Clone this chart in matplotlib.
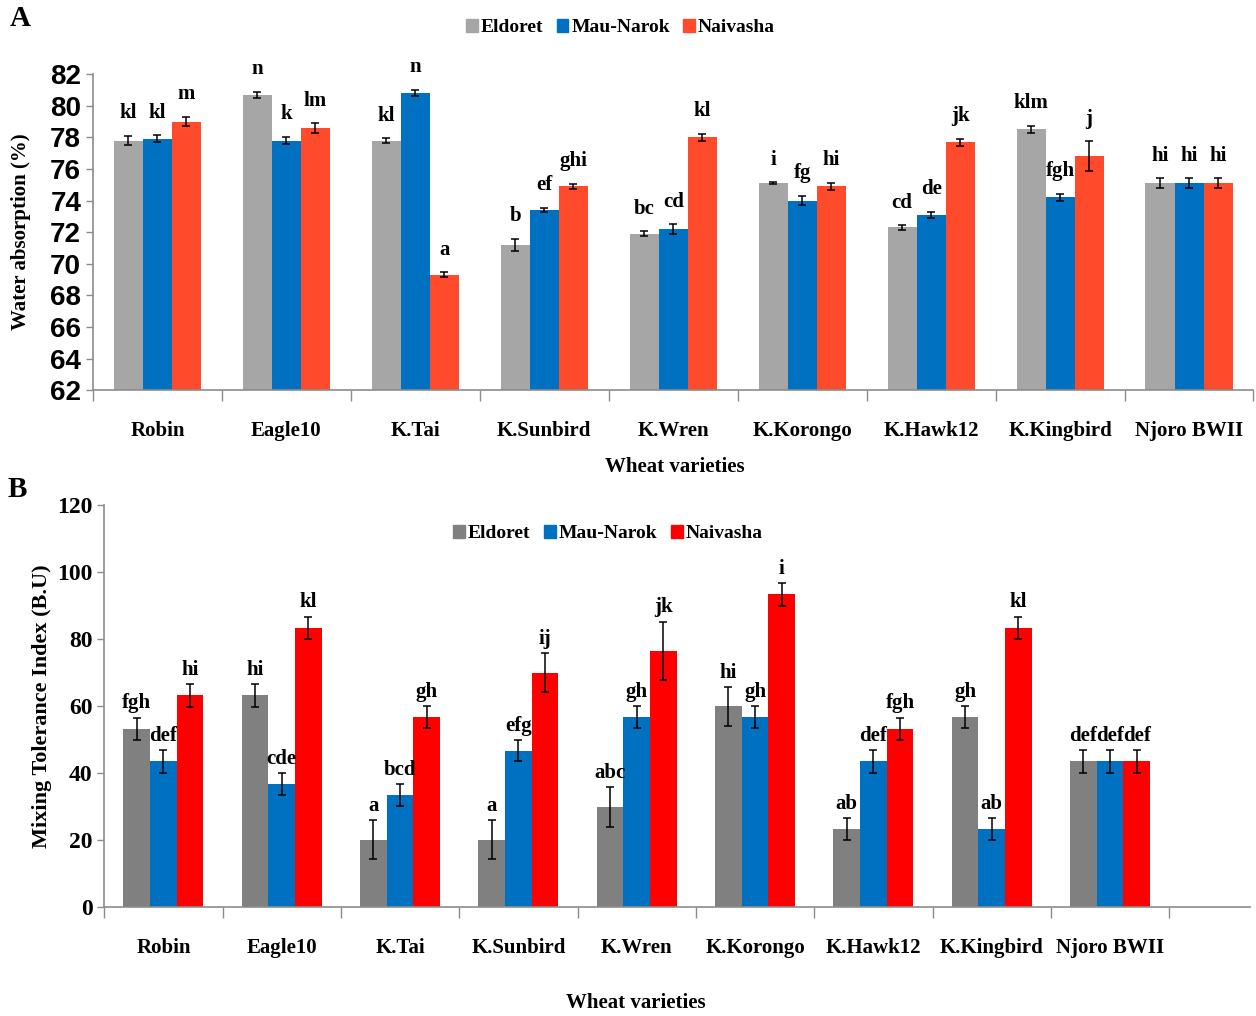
import matplotlib
matplotlib.use("Agg")
import matplotlib.pyplot as plt
from matplotlib.patches import Patch
from matplotlib.ticker import FixedLocator, NullFormatter
import numpy as np

varieties = ["Robin", "Eagle10", "K.Tai", "K.Sunbird", "K.Wren",
             "K.Korongo", "K.Hawk12", "K.Kingbird", "Njoro BWII"]
site_labels = ["Eldoret", "Mau-Narok", "Naivasha"]

# Panel A: water absorption (%)
wa_eldoret = [77.8, 80.7, 77.8, 71.2, 71.9, 75.1, 72.3, 78.5, 75.1]
wa_maunarok = [77.9, 77.8, 80.8, 73.4, 72.2, 74.0, 73.1, 74.2, 75.1]
wa_naivasha = [79.0, 78.6, 69.3, 74.9, 78.0, 74.9, 77.7, 76.8, 75.1]
wa_err_eldoret = [0.30, 0.20, 0.15, 0.38, 0.15, 0.05, 0.15, 0.25, 0.30]
wa_err_maunarok = [0.22, 0.25, 0.20, 0.15, 0.30, 0.30, 0.20, 0.22, 0.30]
wa_err_naivasha = [0.30, 0.30, 0.15, 0.15, 0.22, 0.22, 0.22, 0.95, 0.30]
wa_letters_eldoret = ["kl", "n", "kl", "b", "bc", "i", "cd", "klm", "hi"]
wa_letters_maunarok = ["kl", "k", "n", "ef", "cd", "fg", "de", "fgh", "hi"]
wa_letters_naivasha = ["m", "lm", "a", "ghi", "kl", "hi", "jk", "j", "hi"]

# Panel B: mixing tolerance index (B.U)
mti_eldoret = [53.2, 63.2, 20.2, 20.2, 29.9, 60.0, 23.4, 56.8, 43.5]
mti_maunarok = [43.5, 36.8, 33.5, 46.7, 56.8, 56.8, 43.5, 23.4, 43.5]
mti_naivasha = [63.2, 83.4, 56.8, 70.0, 76.5, 93.3, 53.2, 83.4, 43.5]
mti_err_eldoret = [3.4, 3.4, 5.9, 5.9, 6.0, 5.8, 3.3, 3.3, 3.4]
mti_err_maunarok = [3.4, 3.3, 3.3, 3.2, 3.3, 3.3, 3.4, 3.3, 3.4]
mti_err_naivasha = [3.4, 3.3, 3.3, 5.7, 8.7, 3.3, 3.4, 3.3, 3.4]
mti_letters_eldoret = ["fgh", "hi", "a", "a", "abc", "hi", "ab", "gh", "def"]
mti_letters_maunarok = ["def", "cde", "bcd", "efg", "gh", "gh", "def", "ab", "def"]
mti_letters_naivasha = ["hi", "kl", "gh", "ij", "jk", "i", "fgh", "kl", "def"]

colors_a = ["#a6a6a6", "#0070c0", "#ff4b2b"]
colors_b = ["#808080", "#0070c0", "#ff0000"]

SERIF = ["Liberation Serif", "DejaVu Serif"]
plt.rcParams["font.family"] = SERIF
plt.rcParams["font.weight"] = "bold"

fig = plt.figure(figsize=(12.56, 10.16), dpi=100)
ax_a = fig.add_axes([0.074, 0.616, 0.924, 0.311])
ax_b = fig.add_axes([0.083, 0.107, 0.912, 0.396])

x = np.arange(len(varieties))
width = 0.225


def draw_panel(ax, series, errors, letters, colors, gap):
    for k, (vals, errs, labs) in enumerate(zip(series, errors, letters)):
        pos = x + (k - 1) * width
        ax.bar(pos, vals, width, color=colors[k], zorder=2)
        ax.errorbar(pos, vals, yerr=errs, fmt="none", ecolor="black",
                    elinewidth=1.1, capsize=3, capthick=1.1, zorder=3)
        for p, v, e, t in zip(pos, vals, errs, labs):
            ax.annotate(t, (p, v + e), xytext=(0, gap), textcoords="offset points",
                        ha="center", va="bottom", fontsize=15, fontweight="bold",
                        annotation_clip=False)
    for side in ("top", "right"):
        ax.spines[side].set_visible(False)
    for side in ("left", "bottom"):
        ax.spines[side].set_color("#8c8c8c")
        ax.spines[side].set_linewidth(1.2)
    ax.set_xticks(x)
    ax.set_xticklabels(varieties, fontsize=15, fontweight="bold")
    ax.tick_params(axis="x", which="major", length=0, pad=22)
    ax.xaxis.set_minor_locator(FixedLocator(np.arange(-0.5, len(varieties), 1.0)))
    ax.xaxis.set_minor_formatter(NullFormatter())
    ax.tick_params(axis="x", which="minor", length=8, color="#8c8c8c", width=1)
    ax.tick_params(axis="y", length=5, color="#8c8c8c", width=1)


draw_panel(ax_a, [wa_eldoret, wa_maunarok, wa_naivasha],
           [wa_err_eldoret, wa_err_maunarok, wa_err_naivasha],
           [wa_letters_eldoret, wa_letters_maunarok, wa_letters_naivasha],
           colors_a, gap=9)
ax_a.set_xlim(-0.5, 8.5)
ax_a.set_ylim(62, 82)
ax_a.set_yticks(np.arange(62, 83, 2))
for lab in ax_a.get_yticklabels():
    lab.set_fontfamily(["Liberation Sans", "DejaVu Sans"])
    lab.set_fontsize(20)
    lab.set_fontweight("bold")
ax_a.set_ylabel("Water absorption (%)", fontsize=15, fontweight="bold")
ax_a.yaxis.set_label_coords(-0.053, 0.5)

draw_panel(ax_b, [mti_eldoret, mti_maunarok, mti_naivasha],
           [mti_err_eldoret, mti_err_maunarok, mti_err_naivasha],
           [mti_letters_eldoret, mti_letters_maunarok, mti_letters_naivasha],
           colors_b, gap=3)
ax_b.set_xlim(-0.5, 9.18)
ax_b.set_ylim(0, 120)
ax_b.set_yticks(np.arange(0, 121, 20))
for lab in ax_b.get_yticklabels():
    lab.set_fontsize(17)
    lab.set_fontweight("bold")
ax_b.set_ylabel("Mixing Tolerance Index (B.U)", fontsize=16, fontweight="bold")
ax_b.yaxis.set_label_coords(-0.046, 0.5)

handles_a = [Patch(color=c) for c in colors_a]
fig.legend(handles_a, site_labels, loc="center", bbox_to_anchor=(0.494, 0.973),
           ncol=3, frameon=False, fontsize=14, handlelength=0.6, handleheight=0.7,
           handletextpad=0.15, columnspacing=0.7)
handles_b = [Patch(color=c) for c in colors_b]
fig.legend(handles_b, site_labels, loc="center", bbox_to_anchor=(0.484, 0.475),
           ncol=3, frameon=False, fontsize=14, handlelength=0.6, handleheight=0.7,
           handletextpad=0.15, columnspacing=0.7)

fig.text(0.537, 0.540, "Wheat varieties", ha="center", va="center",
         fontsize=15, fontweight="bold")
fig.text(0.506, 0.013, "Wheat varieties", ha="center", va="center",
         fontsize=15, fontweight="bold")
fig.text(0.008, 0.982, "A", ha="left", va="center", fontsize=21, fontweight="bold")
fig.text(0.006, 0.518, "B", ha="left", va="center", fontsize=21, fontweight="bold")

fig.savefig("out.png", dpi=100)
